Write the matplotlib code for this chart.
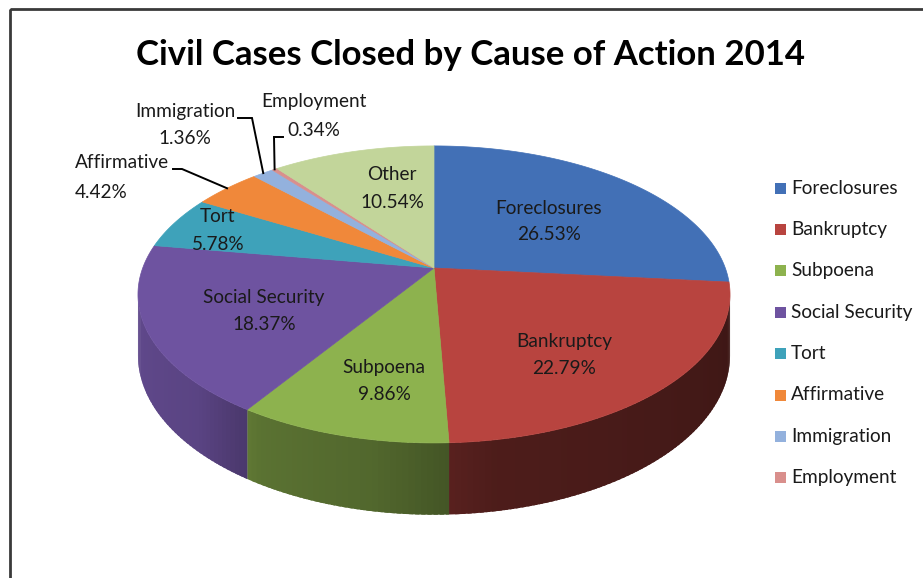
import numpy as np
import matplotlib
matplotlib.use("Agg")
import matplotlib.pyplot as plt
from matplotlib.patches import Polygon, Rectangle
from matplotlib.colors import to_rgb

# ---------------- data ----------------
title = "Civil Cases Closed by Cause of Action 2014"
categories = ["Foreclosures", "Bankruptcy", "Subpoena", "Social Security", "Tort",
              "Affirmative", "Immigration", "Employment", "Other"]
percentages = [26.53, 22.79, 9.86, 18.37, 5.78, 4.42, 1.36, 0.34, 10.54]
legend_categories = ["Foreclosures", "Bankruptcy", "Subpoena", "Social Security", "Tort",
                     "Affirmative", "Immigration", "Employment"]

# ---------------- styles / layout ----------------
colors = ["#4270B6", "#B8443F", "#8DB24E", "#6E53A0", "#3EA2BA",
          "#F0883A", "#93B1DD", "#D98F8C", "#C2D59A"]
FONT = "Lato"
W, H = 923, 578
CX, CY = 434, 268          # projected pie centre (px)
A, B, K = 291.3, 143.8, 0.178   # horizontal radius, vertical radius, perspective
DEPTH = 59

# label text positions: (x, y_line1, y_line2, ha)
label_layout = {
    "Foreclosures": (549, 208, 235, "center"),
    "Bankruptcy": (564, 342, 368, "center"),
    "Subpoena": (384, 368, 395, "center"),
    "Social Security": (264, 297, 325, "center"),
    "Tort": (218, 217, 245, "center"),
    "Affirmative": (75, 163, 192, "left"),
    "Immigration": (185, 112, 138, "center"),
    "Employment": (314, 102, 130, "center"),
    "Other": (392, 175, 202, "center"),
}
# leader line start points (label side) and elbows
leaders = {
    "Affirmative": [(173, 169), (182, 169)],
    "Immigration": [(238, 118), (252, 118)],
    "Employment": [(283, 137), (274, 137)],
}

fig = plt.figure(figsize=(W / 100, H / 100), dpi=100)
fig.patch.set_facecolor("white")
ax = fig.add_axes([0, 0, 1, 1])
ax.set_xlim(0, W)
ax.set_ylim(H, 0)
ax.axis("off")


def proj(tdeg, r=1.0, down=0.0):
    t = np.radians(tdeg)
    u = r * np.cos(t)
    v = r * np.sin(t)
    den = 1 + K * v
    return CX + A * u / den, CY - B * v / den + down * DEPTH / den


def shade(c, f):
    r, g, b = to_rgb(c)
    return (r * f, g * f, b * f)


def side_factor(s):
    return np.interp(s, [10, 80, 100, 120, 135, 170], [0.33, 0.42, 0.58, 0.64, 0.82, 0.88])


total = sum(percentages)
cum = np.concatenate([[0], np.cumsum(percentages)])
t_start = 90 - 360 * cum[:-1] / total
t_end = 90 - 360 * cum[1:] / total

theta_k = np.degrees(np.arcsin(K))
vis_lo, vis_hi = -180 + theta_k, -theta_k

# side walls (drawn as overlapping thin quads to give a smooth shading gradient)
for i, c in enumerate(colors):
    for off in (0, -360):
        a0, a1 = t_end[i] - off, t_start[i] - off
        lo, hi = max(a0, vis_lo), min(a1, vis_hi)
        if hi <= lo:
            continue
        steps = np.append(np.arange(lo, hi, 1.0), hi)
        for s0, s1 in zip(steps[:-1], steps[1:]):
            s1e = min(s1 + 0.7, hi)
            seg = np.linspace(s0, s1e, 3)
            top = [proj(s) for s in seg]
            bot = [proj(s, down=1) for s in seg[::-1]]
            col = shade(c, side_factor(-(s0 + s1) / 2))
            ax.add_patch(Polygon(top + bot, closed=True, facecolor=col,
                                 edgecolor="none", lw=0, zorder=2))

# top faces
for i, c in enumerate(colors):
    ts = np.linspace(t_start[i], t_end[i], max(3, int(abs(t_start[i] - t_end[i]) * 2)))
    pts = [(CX, CY)] + [proj(t) for t in ts]
    ax.add_patch(Polygon(pts, closed=True, facecolor=c, edgecolor=c, lw=0.5, zorder=3))

# labels
texts = []
for i, name in enumerate(categories):
    x, y1, y2, ha = label_layout[name]
    t1 = ax.text(x, y1, name, ha=ha, va="center", fontsize=12.5, family=FONT,
                 color="#1a1a1a", zorder=5)
    t2 = ax.text(x, y2, f"{percentages[i]:.2f}%", ha=ha, va="center", fontsize=12.5,
                 family=FONT, color="#1a1a1a", zorder=5)
    texts += [t1, t2]

# leader lines
for name, pts in leaders.items():
    i = categories.index(name)
    mid = (t_start[i] + t_end[i]) / 2
    ex, ey = proj(mid)
    xs = [p[0] for p in pts] + [ex]
    ys = [p[1] for p in pts] + [ey]
    ax.plot(xs, ys, color="black", lw=1.4, zorder=6, solid_joinstyle="miter")

# legend
leg_texts = []
for j, name in enumerate(legend_categories):
    y = 188 + j * 41.4
    ax.add_patch(Rectangle((775, y - 5.5), 11, 11, facecolor=colors[categories.index(name)],
                           edgecolor="none", zorder=5))
    lt = ax.text(791, y, name, ha="left", va="center", fontsize=12.5, family=FONT,
                 color="#1a1a1a", zorder=5)
    leg_texts.append(lt)

tt = ax.text(471, 55, title, ha="center", va="center", fontsize=26, family=FONT,
             fontweight="bold", color="black", zorder=5)

# frame
ax.add_patch(Rectangle((10, 9), 1000, 1000, facecolor="none", edgecolor="#3a3a3a",
                       lw=2, zorder=10, clip_on=False))

# fit font sizes to reference widths
fig.canvas.draw()
r = fig.canvas.get_renderer()
bw = tt.get_window_extent(r).width
tt.set_fontsize(tt.get_fontsize() * 669 / bw)
ref = leg_texts[3]
bw = ref.get_window_extent(r).width
fs = ref.get_fontsize() * 122 / bw
for t in texts + leg_texts:
    t.set_fontsize(fs)

fig.savefig("out.png", dpi=100, facecolor="white")
